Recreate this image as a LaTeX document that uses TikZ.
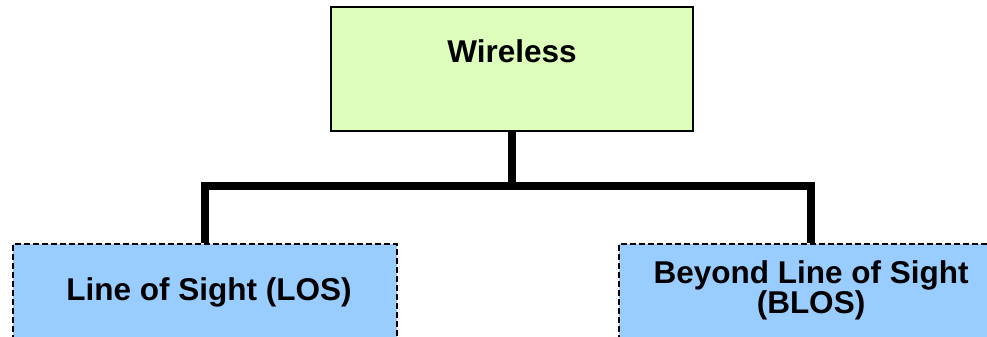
\documentclass[tikz,border=0pt]{standalone}
\usepackage{fontspec}
\setmainfont{Liberation Sans}
\definecolor{rootfill}{HTML}{DEFFBB}
\definecolor{leaffill}{HTML}{99CCFF}
\begin{document}
\begin{tikzpicture}[x=1pt,y=-1pt,
  rootbox/.style={draw=black,line width=1.5pt,fill=rootfill,rectangle,inner sep=0pt,
    minimum width=362pt,minimum height=124pt},
  leafbox/.style={draw=black,line width=1.7pt,dash pattern=on 6pt off 3pt,fill=leaffill,
    rectangle,inner sep=0pt,minimum width=384pt,minimum height=140pt},
  lbl/.style={font=\bfseries\fontsize{31.5}{30}\selectfont,inner sep=0pt,align=center},
  bar/.style={line width=8pt,line join=miter}]
\useasboundingbox (0,0) rectangle (987,337);
\clip (0,0) rectangle (987,337);
% boxes
\node[rootbox] (root) at (512,69) {};
\node[leafbox,anchor=north] (los) at (205,243) {};
\node[leafbox,anchor=north] (blos) at (811,243) {};
% labels
\node[lbl,anchor=base] (rootlbl) at (512,63) {Wireless};
\node[lbl,anchor=base] (loslbl) at (209,300) {Line of Sight (LOS)};
\node[lbl,anchor=base] (bloslbl) at (811,313) {Beyond Line of Sight\\(BLOS)};
% tree connectors
\coordinate (bus) at (512,186);
\draw[bar] (root.south) -- (bus);
\draw[bar] (bus) -| (los.north);
\draw[bar] (bus) -| (blos.north);
\end{tikzpicture}
\end{document}
